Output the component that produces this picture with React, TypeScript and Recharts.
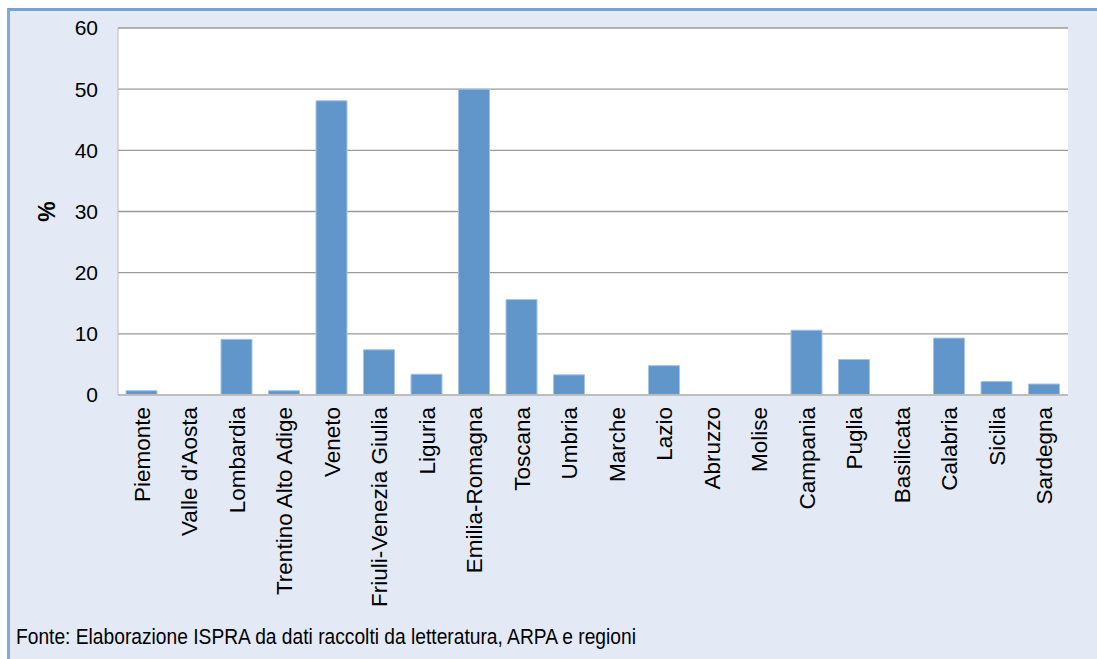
import React from 'react';
import { BarChart, Bar, XAxis, YAxis, CartesianGrid } from 'recharts';

// Regional shares (%) — one value per region, in map order
const regions = [
  'Piemonte',
  "Valle d'Aosta",
  'Lombardia',
  'Trentino Alto Adige',
  'Veneto',
  'Friuli-Venezia Giulia',
  'Liguria',
  'Emilia-Romagna',
  'Toscana',
  'Umbria',
  'Marche',
  'Lazio',
  'Abruzzo',
  'Molise',
  'Campania',
  'Puglia',
  'Basilicata',
  'Calabria',
  'Sicilia',
  'Sardegna',
];
const percentages = [0.7, 0, 9.1, 0.7, 48.1, 7.4, 3.4, 50.0, 15.6, 3.3, 0, 4.8, 0, 0, 10.6, 5.8, 0, 9.3, 2.2, 1.8];
const yTicks = [0, 10, 20, 30, 40, 50, 60];
const sourceNote = 'Fonte: Elaborazione ISPRA da dati raccolti da letteratura, ARPA e regioni';

const data = regions.map((region, i) => ({ region, value: percentages[i] }));

const FONT = '"Liberation Sans", Arial, sans-serif';

const RegionTick = (props: any) => {
  const { x, y, payload } = props;
  return (
    <g transform={`translate(${x},${y})`}>
      <text
        transform="rotate(-90)"
        x={-12}
        y={0}
        dy="0.36em"
        textAnchor="end"
        fontSize={22.5}
        fontFamily={FONT}
        fill="#000"
      >
        {payload.value}
      </text>
    </g>
  );
};

const PercentLabel = (props: any) => {
  const { viewBox } = props;
  const cx = viewBox.x - 11;
  const cy = viewBox.y + viewBox.height / 2;
  return (
    <text
      x={cx}
      y={cy}
      transform={`rotate(-90, ${cx}, ${cy})`}
      textAnchor="middle"
      dominantBaseline="central"
      fontSize={23}
      fontWeight="bold"
      fontFamily={FONT}
      fill="#000"
    >
      %
    </text>
  );
};

export default function App() {
  return (
    <div style={{ position: 'absolute', left: 0, top: 0, width: 1097, height: 659, background: '#fff', overflow: 'hidden' }}>
      {/* light blue panel with the blue top/left frame */}
      <div
        style={{
          position: 'absolute',
          left: 7,
          top: 8,
          width: 1090,
          height: 651,
          background: '#E3EAF6',
          borderTop: '3px solid #77A0D8',
          borderLeft: '3px solid #84A9DC',
          boxSizing: 'border-box',
        }}
      />
      <div style={{ position: 'absolute', left: 0, top: 0 }}>
        <BarChart
          width={1097}
          height={659}
          data={data}
          margin={{ top: 28, right: 29, left: 58, bottom: 34 }}
        >
          <CartesianGrid vertical={false} fill="#fff" stroke="#9A9A9A" strokeWidth={1.3} />
          <XAxis
            dataKey="region"
            interval={0}
            height={230}
            tickSize={0}
            tickMargin={0}
            tickLine={false}
            axisLine={{ stroke: '#BDBDBD', strokeWidth: 2 }}
            tick={<RegionTick />}
          />
          <YAxis
            width={60}
            domain={[0, 60]}
            ticks={yTicks}
            interval={0}
            tickSize={0}
            tickMargin={20}
            tickLine={false}
            axisLine={{ stroke: '#BBBBBB', strokeWidth: 1 }}
            tick={{ fontSize: 21, fontFamily: FONT, fill: '#000' }}
            label={<PercentLabel />}
          />
          <Bar
            dataKey="value"
            fill="#6196CA"
            stroke="#A9C3E3"
            strokeWidth={1}
            barSize={31}
            isAnimationActive={false}
          />
        </BarChart>
      </div>
      <div
        style={{
          position: 'absolute',
          left: 16,
          top: 624,
          fontSize: 22,
          lineHeight: '26px',
          fontFamily: FONT,
          color: '#000',
          whiteSpace: 'nowrap',
          transform: 'scaleX(0.873)',
          transformOrigin: 'left top',
        }}
      >
        {sourceNote}
      </div>
    </div>
  );
}
